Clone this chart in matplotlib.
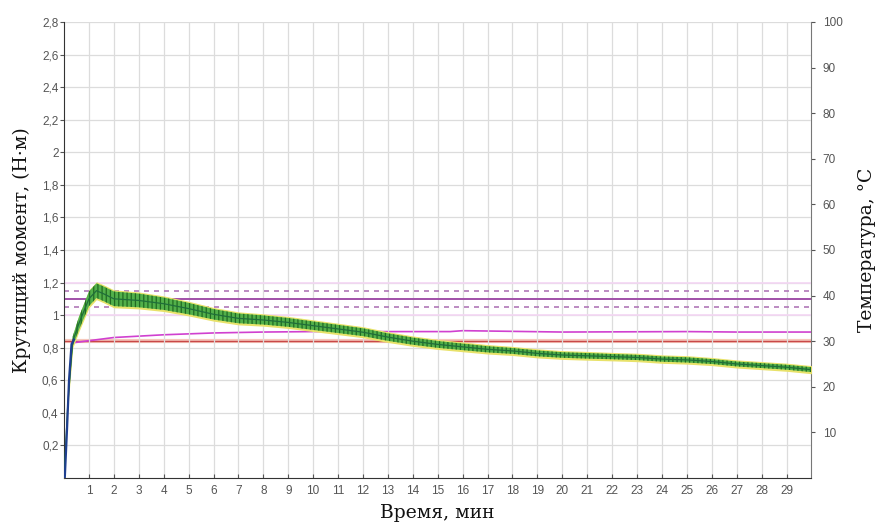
import numpy as np
import matplotlib.pyplot as plt

# torque curve (N*m) vs time (min)
time = [0, 0.15, 0.35, 0.6, 1.0, 1.3, 1.6, 2, 3, 4, 5, 6, 7, 8, 9, 10, 11, 12, 13, 14, 15,
        16, 17, 18, 19, 20, 21, 22, 23, 24, 25, 26, 27, 28, 29, 30]
torque = [0.0, 0.45, 0.84, 0.95, 1.10, 1.15, 1.13, 1.10, 1.09, 1.07, 1.04, 1.005, 0.98, 0.97,
          0.955, 0.935, 0.915, 0.895, 0.865, 0.84, 0.82, 0.805, 0.79, 0.78, 0.765, 0.755,
          0.75, 0.745, 0.74, 0.73, 0.725, 0.715, 0.70, 0.69, 0.68, 0.665]
spread = [0.01, 0.02, 0.03, 0.04, 0.045, 0.045, 0.045, 0.045, 0.042, 0.038, 0.035, 0.032, 0.03,
          0.028, 0.027, 0.026, 0.025, 0.024, 0.023, 0.022, 0.021, 0.02, 0.019, 0.018, 0.018,
          0.017, 0.017, 0.016, 0.016, 0.016, 0.016, 0.015, 0.015, 0.015, 0.015, 0.015]

# initial blue trace
blue_t = [0.03, 0.12, 0.2, 0.3, 0.4]
blue_v = [0.0, 0.3, 0.6, 0.82, 0.85]

# temperature (C)
temp_t = [0.3, 1, 2, 3, 4, 5, 6, 8, 10, 13, 15.5, 16, 20, 25, 27, 30]
temp_v = [29.6, 30.1, 30.8, 31.1, 31.4, 31.6, 31.8, 32.0, 32.1, 32.1, 32.1, 32.3, 32.0, 32.1, 32.0, 32.0]
temp_set = 30

# torque limits
lim_mid = 1.10
lim_band = [1.15, 1.05]
pink_lines = [1.2, 1.0]

xticks = list(range(1, 30))
yticks = [0.2, 0.4, 0.6, 0.8, 1, 1.2, 1.4, 1.6, 1.8, 2, 2.2, 2.4, 2.6, 2.8]
ytick_labels = [f"{v:g}".replace('.', ',') for v in yticks]
rticks = [10, 20, 30, 40, 50, 60, 70, 80, 90, 100]

plt.rcParams['font.family'] = ['Liberation Sans', 'DejaVu Sans']
plt.rcParams['hatch.linewidth'] = 0.9
fig = plt.figure(figsize=(8.82, 5.26), dpi=100)
ax = fig.add_axes([0.0726, 0.0913, 0.8474, 0.867])
ax2 = ax.twinx()

ax.set_xlim(0, 30)
ax.set_ylim(0, 2.8)
ax2.set_ylim(0, 100)

ax.set_xticks(xticks)
ax.set_yticks(yticks)
ax.set_yticklabels(ytick_labels)
ax.grid(True, color='#dcdcdc', lw=0.9)
ax.set_axisbelow(True)

for y in pink_lines:
    ax.axhline(y, color='#f4d6f4', lw=1.2, zorder=1)
ax.axhline(lim_mid, color='#a050a8', lw=1.4, zorder=2)
for y in lim_band:
    ax.axhline(y, color='#b078b8', lw=1.2, ls=(0, (3, 3)), zorder=2)

# temperature lines on the right axis, drawn beneath torque
ax2.axhline(temp_set, color='#f6c8bc', lw=3.0, zorder=1)
ax2.axhline(temp_set, color='#c84848', lw=1.0, zorder=2)
ax2.plot(temp_t, temp_v, color='#d040d0', lw=1.2, zorder=3)

# torque band
t = np.array(time)
v = np.array(torque)
s = np.array(spread)
ax2.set_zorder(ax.get_zorder() - 1)
ax.patch.set_visible(False)
ax.fill_between(t, v - s - 0.01, v + s + 0.01, color='#e8e26a', lw=0, zorder=4)
ax.fill_between(t, v - s, v + s, facecolor='#52b04a', edgecolor='#226b22', hatch='||||',
                lw=0, zorder=5)
ax.plot(t, v, color='#1f6e3a', lw=0.9, zorder=6)
ax.plot(blue_t, blue_v, color='#1f3f8f', lw=1.6, zorder=7)

ax2.set_yticks(rticks)
ax2.set_yticklabels([str(r) for r in rticks])

ax.tick_params(axis='x', direction='in', length=3, colors='#555555', labelsize=8.5, pad=5)
ax.tick_params(axis='y', direction='out', length=3, colors='#555555', labelsize=8.5, pad=1)
ax2.tick_params(axis='y', direction='out', length=3, colors='#555555', labelsize=8.5, pad=5)

for sp in ['top']:
    ax.spines[sp].set_visible(False)
    ax2.spines[sp].set_visible(False)
ax.spines['right'].set_visible(False)
ax.spines['left'].set_color('#333333')
ax.spines['bottom'].set_color('#333333')
ax2.spines['right'].set_color('#777777')
ax2.spines['left'].set_visible(False)
ax2.spines['bottom'].set_visible(False)

lab = dict(family=['DejaVu Serif'], fontsize=13.5, color='#111111')
ax.set_xlabel('Время, мин', labelpad=5, **lab)
ax.set_ylabel('Крутящий момент, (Н·м)', labelpad=8, **lab)
ax2.set_ylabel('Температура, °C', labelpad=11, **lab)

fig.savefig('out.png', dpi=100)
